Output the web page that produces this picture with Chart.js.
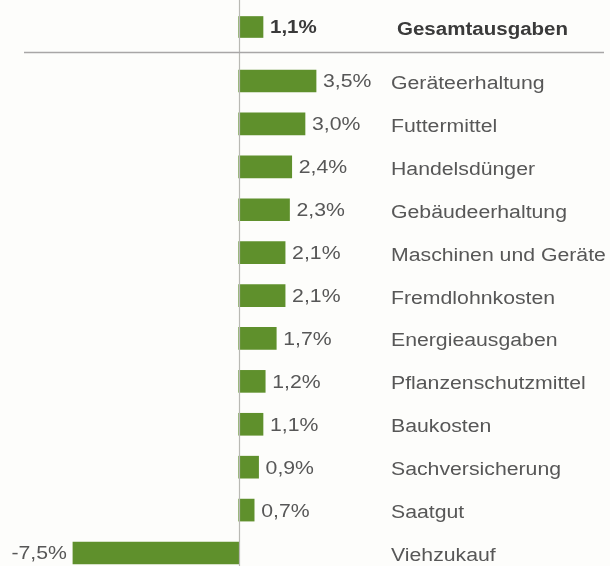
<!DOCTYPE html>
<html lang="de">
<head>
<meta charset="utf-8">
<script src="https://cdn.jsdelivr.net/npm/chart.js@4/dist/chart.umd.min.js"></script>
<style>
  html, body { margin: 0; padding: 0; background: #fdfdfb; }
  #wrap { position: relative; width: 610px; height: 566px; overflow: hidden; }
  canvas { position: absolute; left: 0; }
  #top { top: 0; }
  #rows { top: 54px; }
</style>
</head>
<body>
<div id="wrap">
  <canvas id="top" width="610" height="54"></canvas>
  <canvas id="rows" width="610" height="512"></canvas>
</div>
<script>
// Veränderung der Betriebsausgaben gegenüber dem Vorjahr (in %)
const totalCategory = ['Gesamtausgaben'];
const totalValues = [1.1];

const categories = [
  'Geräteerhaltung', 'Futtermittel', 'Handelsdünger', 'Gebäudeerhaltung',
  'Maschinen und Geräte', 'Fremdlohnkosten', 'Energieausgaben',
  'Pflanzenschutzmittel', 'Baukosten', 'Sachversicherung', 'Saatgut', 'Viehzukauf'
];
const values = [3.5, 3.0, 2.4, 2.3, 2.1, 2.1, 1.7, 1.2, 1.1, 0.9, 0.7, -7.5];

const BAR_GREEN = '#5f902c';
const TEXT_GREY = '#575757';
const TEXT_DARK = '#3a3a3a';
const FONT = '"Liberation Sans", Arial, sans-serif';
const LABEL_X = 391;     // left edge of the category text column
const TEXT_STRETCH = 1.18;
const BOLD_STRETCH = 1.14;

const fmt = v => v.toFixed(1).replace('.', ',') + '%';

function stretchedText(ctx, text, x, y, align, font, color, sx) {
  ctx.save();
  ctx.font = font;
  ctx.fillStyle = color;
  ctx.textAlign = align;
  ctx.textBaseline = 'middle';
  ctx.translate(x, y);
  ctx.scale(sx, 1);
  ctx.fillText(text, 0, 0);
  ctx.restore();
}

// draws the zero axis, the value labels and the category names
function labelPlugin(bold, separator) {
  return {
    id: 'rowLabels',
    afterDatasetsDraw(chart) {
      const ctx = chart.ctx;
      const xs = chart.scales.x;
      const x0 = Math.round(xs.getPixelForValue(0)) + 0.5;
      ctx.save();
      ctx.strokeStyle = '#b9b9b4';
      ctx.lineWidth = 1.2;
      ctx.beginPath();
      ctx.moveTo(x0, 0);
      ctx.lineTo(x0, chart.height);
      ctx.stroke();
      if (separator) {
        ctx.strokeStyle = '#a8a6a6';
        ctx.lineWidth = 1.3;
        ctx.beginPath();
        ctx.moveTo(24, chart.height - 1.5);
        ctx.lineTo(604, chart.height - 1.5);
        ctx.stroke();
      }
      ctx.restore();

      const meta = chart.getDatasetMeta(0);
      const data = chart.data.datasets[0].data;
      const labels = chart.data.labels;
      const valFont = (bold ? 'bold ' : '') + '18px ' + FONT;
      const valColor = bold ? TEXT_DARK : TEXT_GREY;
      const sx = bold ? BOLD_STRETCH : TEXT_STRETCH;
      meta.data.forEach((bar, i) => {
        const v = data[i];
        const y = bar.y + 1.5;
        if (v >= 0) {
          stretchedText(ctx, fmt(v), bar.x + 7, y, 'left', valFont, valColor, sx);
        } else {
          stretchedText(ctx, fmt(v), bar.x - 6, y, 'right', valFont, valColor, sx);
        }
        stretchedText(ctx, labels[i], LABEL_X + (bold ? 6 : 0), y + 1.5, 'left', valFont, valColor, sx);
      });
    }
  };
}

function baseOptions(padTop, padBottom, offset) {
  return {
    responsive: false,
    maintainAspectRatio: false,
    animation: false,
    indexAxis: 'y',
    layout: { padding: { top: padTop, bottom: padBottom, left: 0, right: 0 } },
    plugins: { legend: { display: false }, tooltip: { enabled: false } },
    scales: {
      x: { type: 'linear', min: -10.8, max: 16.8, display: false },
      y: { type: 'category', display: false, offset: offset }
    }
  };
}

new Chart(document.getElementById('top'), {
  type: 'bar',
  data: {
    labels: totalCategory,
    datasets: [{ data: totalValues, backgroundColor: BAR_GREEN, barThickness: 21, clip: false }]
  },
  options: baseOptions(0, 0, true),
  plugins: [labelPlugin(true, true)]
});

new Chart(document.getElementById('rows'), {
  type: 'bar',
  data: {
    labels: categories,
    datasets: [{ data: values, backgroundColor: BAR_GREEN, barThickness: 22, clip: false }]
  },
  options: baseOptions(27, 13, false),
  plugins: [labelPlugin(false, false)]
});
</script>
</body>
</html>
